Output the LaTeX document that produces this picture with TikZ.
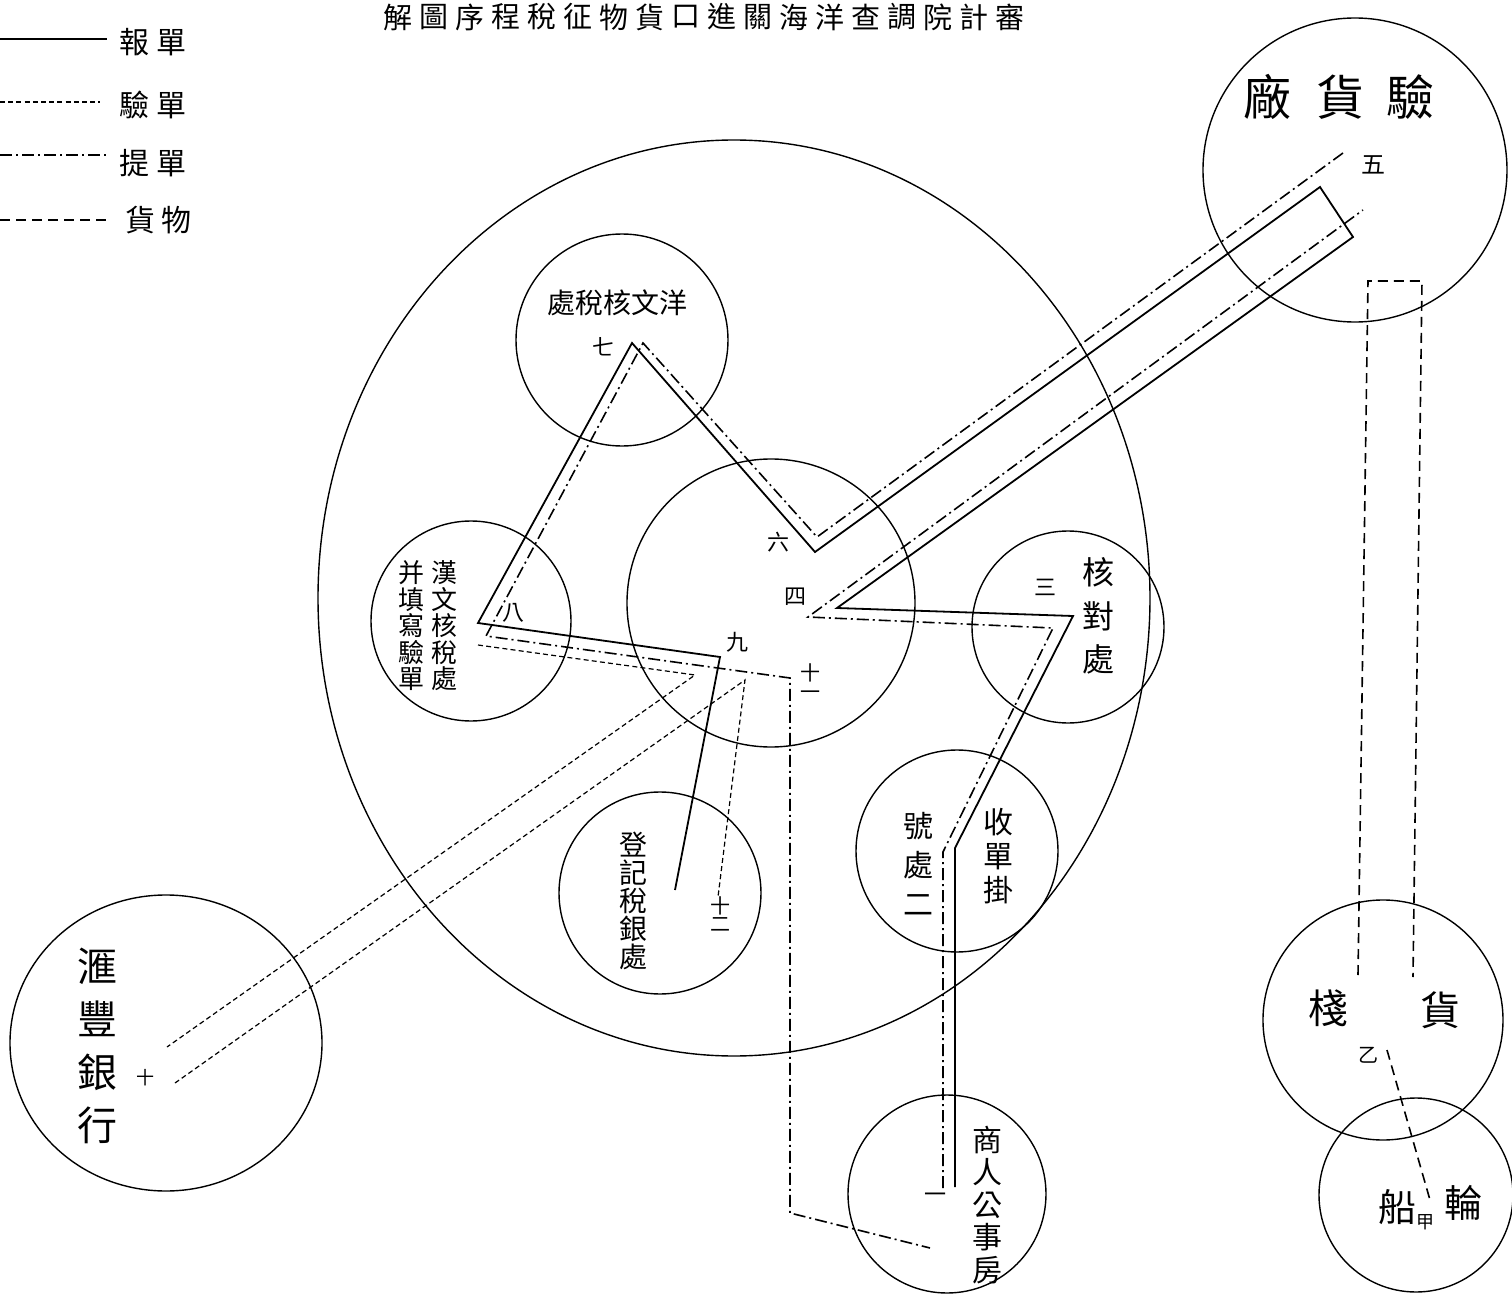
\documentclass[tikz,border=0pt]{standalone}
\usepackage{fontspec}
\newfontfamily\cjk{Noto Sans CJK TC}
\usetikzlibrary{shapes.geometric}
\begin{document}
\begin{tikzpicture}[x=0.5pt,y=-0.5pt,
  ring/.style={draw, circle, line width=0.7pt, inner sep=0pt, outer sep=0pt},
  bao/.style={line width=0.9pt},
  yan/.style={line width=0.6pt, dash pattern=on 2.5pt off 1.6pt},
  ti/.style={line width=0.8pt, dash pattern=on 6pt off 2pt on 1pt off 2pt},
  huo/.style={line width=0.8pt, dash pattern=on 5pt off 3pt},
  vt/.style args={#1/#2}{font=\cjk\fontsize{#1pt}{#2pt}\selectfont, align=center, inner sep=0pt}
]
\useasboundingbox (0,0) rectangle (1512,1295);
\fill[white] (0,0) rectangle (1512,1295);

% title
\foreach \c [count=\i from 0] in {解,圖,序,程,稅,征,物,貨,口,進,關,海,洋,查,調,院,計,審}
  \node[vt={14.5/14.5}] (title\i) at ({398+\i*36},17) {\c};

% legend
\coordinate (la0) at (0,39);   \coordinate (la1) at (107,39);
\coordinate (lb0) at (0,102);  \coordinate (lb1) at (100,102);
\coordinate (lc0) at (0,155);  \coordinate (lc1) at (107,155);
\coordinate (ld0) at (0,220);  \coordinate (ld1) at (108,220);
\draw[bao] (la0) -- (la1);
\draw[yan] (lb0) -- (lb1);
\draw[ti] (lc0) -- (lc1);
\draw[huo] (ld0) -- (ld1);
\node[vt={15/15}] (lega) at (153,42) {報\hspace{3.5pt}單};
\node[vt={15/15}] (legb) at (153,105) {驗\hspace{3.5pt}單};
\node[vt={15/15}] (legc) at (153,163) {提\hspace{3.5pt}單};
\node[vt={15/15}] (legd) at (158,220) {貨\hspace{3pt}物};

% circles
\node[draw, ellipse, line width=0.7pt, inner sep=0pt, minimum width=416pt, minimum height=458pt] (big) at (734,598) {};
\node[ring, minimum size=152pt] (yhc) at (1355,170) {};
\node[ring, minimum size=106pt] (ywc) at (622,340) {};
\node[ring, minimum size=100pt] (hwc) at (471,621) {};
\node[ring, minimum size=144pt] (cen) at (771,603) {};
\node[ring, minimum size=96pt] (hdc) at (1068,627) {};
\node[ring, minimum size=101pt] (sdc) at (957,851) {};
\node[ring, minimum size=101pt] (djc) at (660,893) {};
\node[draw, ellipse, line width=0.7pt, inner sep=0pt, minimum width=156pt, minimum height=148pt] (hfc) at (166,1043) {};
\node[ring, minimum size=120pt] (hzc) at (1383,1020) {};
\node[ring, minimum size=97pt] (lcc) at (1416,1195) {};
\node[ring, minimum size=99pt] (src) at (947,1194) {};

% texts
\node[vt={24/24}] (t1) at (1267,97) {廠};
\node[vt={24/24}] (t2) at (1340,97) {貨};
\node[vt={24/24}] (t3) at (1410,97) {驗};
\node[vt={12/12}] (n5) at (1373,165) {五};
\node[vt={14/14}] (t4) at (617,303) {處稅核文洋};
\node[vt={11/11}] (n7) at (603,347) {七};
\node[vt={13/13.25}] (t5) at (444,626) {漢\\文\\核\\稅\\處};
\node[vt={13/13.25}] (t6) at (411,626) {并\\填\\寫\\驗\\單};
\node[vt={11/11}] (n8) at (513,613) {八};
\node[vt={11/11}] (n6) at (778,542) {六};
\node[vt={11/11}] (n4) at (795,597) {四};
\node[vt={11/11}] (n9) at (737,642) {九};
\node[vt={10/9.5}] (n11) at (810,682) {十\\一};
\node[vt={11/11}] (n3) at (1045,587) {三};
\node[vt={16/21.75}] (t7) at (1098,616) {核\\對\\處};
\node[vt={15/17}] (t8) at (998,856) {收\\單\\掛};
\node[vt={15/19.5}] (t9) at (918,864) {號\\處\\二};
\node[vt={14/14}] (t10) at (633,901) {登\\記\\稅\\銀\\處};
\node[vt={10/9}] (n12) at (720,914) {十\\二};
\node[vt={20/26.5}] (t11) at (97,1046) {滙\\豐\\銀\\行};
\node[vt={9/9}] (n10) at (145,1078) {十};
\node[vt={20/20}] (t12) at (1328,1008) {棧};
\node[vt={20/20}] (t13) at (1440,1010) {貨};
\node[vt={10/10}] (nb) at (1368,1055) {乙};
\node[vt={19/19}] (t14) at (1397,1207) {船};
\node[vt={19/19}] (t15) at (1463,1203) {輪};
\node[vt={9/9}] (na) at (1425,1222) {甲};
\node[vt={15/16.25}] (t16) at (987,1205) {商\\人\\公\\事\\房};
\node[vt={11/11}] (n1) at (935,1198) {一};

% solid path (報單)
\coordinate (s0) at (955,1187);
\coordinate (s1) at (955,848);
\coordinate (s2) at (1073,616);
\coordinate (s3) at (837,608);
\coordinate (s4) at (1353,237);
\coordinate (s5) at (1320,187);
\coordinate (s6) at (815,552);
\coordinate (s7) at (632,343);
\coordinate (s8) at (478,623);
\coordinate (s9) at (720,657);
\coordinate (s10) at (675,890);
\draw[bao, line join=miter] (s0) -- (s1) -- (s2) -- (s3) -- (s4) -- (s5) -- (s6) -- (s7) -- (s8) -- (s9) -- (s10);

% dash-dot path (提單)
\coordinate (d0) at (943,1188);
\coordinate (d1) at (943,852);
\coordinate (d2) at (1053,628);
\coordinate (d3) at (808,617);
\coordinate (d4) at (1363,210);
\draw[ti] (d0) -- (d1) -- (d2) -- (d3) -- (d4);
\coordinate (e0) at (1343,153);
\coordinate (e1) at (817,537);
\coordinate (e2) at (643,343);
\coordinate (e3) at (486,636);
\coordinate (e4) at (790,678);
\coordinate (e5) at (790,1213);
\coordinate (e6) at (930,1248);
\draw[ti] (e0) -- (e1) -- (e2) -- (e3) -- (e4) -- (e5) -- (e6);

% dotted paths (驗單)
\coordinate (v0) at (478,645);
\coordinate (v1) at (695,675);
\coordinate (v2) at (167,1047);
\draw[yan] (v0) -- (v1) -- (v2);
\coordinate (w0) at (175,1083);
\coordinate (w1) at (745,680);
\coordinate (w2) at (718,897);
\draw[yan] (w0) -- (w1) -- (w2);

% goods (貨物)
\coordinate (g0) at (1358,975);
\coordinate (g1) at (1368,281);
\coordinate (g2) at (1422,281);
\coordinate (g3) at (1413,977);
\draw[huo] (g0) -- (g1) -- (g2) -- (g3);
\coordinate (h0) at (1387,1050);
\coordinate (h1) at (1430,1200);
\draw[huo] (h0) -- (h1);
\end{tikzpicture}
\end{document}
